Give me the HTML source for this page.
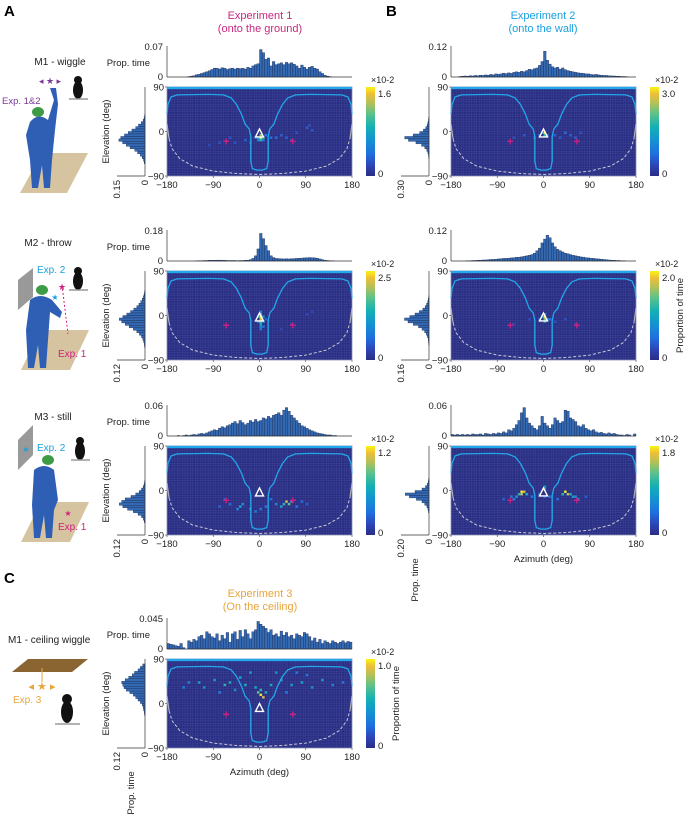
<!DOCTYPE html>
<html><head><meta charset="utf-8">
<style>
html,body{margin:0;padding:0;background:#fff;}
svg{display:block;font-family:"Liberation Sans",Arial,sans-serif;}
</style></head>
<body>
<svg id="fig" width="695" height="814" viewBox="0 0 695 814" xmlns="http://www.w3.org/2000/svg">
<defs>
<linearGradient id="parula" x1="0" y1="1" x2="0" y2="0">
<stop offset="0" stop-color="#2a2d84"/><stop offset="0.12" stop-color="#2c45b8"/><stop offset="0.25" stop-color="#1f6fe0"/><stop offset="0.4" stop-color="#1392d2"/><stop offset="0.55" stop-color="#14b0b5"/><stop offset="0.7" stop-color="#5cc28a"/><stop offset="0.82" stop-color="#b4c158"/><stop offset="0.92" stop-color="#eebd39"/><stop offset="1" stop-color="#f9f60f"/>
</linearGradient>
</defs>

<text x="4" y="16" font-size="15" font-weight="bold">A</text>
<text x="386" y="16" font-size="15" font-weight="bold">B</text>
<text x="4" y="583" font-size="15" font-weight="bold">C</text>
<text x="260" y="19" font-size="11" fill="#c8287f" text-anchor="middle">Experiment 1</text>
<text x="260" y="32" font-size="11" fill="#c8287f" text-anchor="middle">(onto the ground)</text>
<text x="543" y="19" font-size="11" fill="#1aa0e0" text-anchor="middle">Experiment 2</text>
<text x="543" y="32" font-size="11" fill="#1aa0e0" text-anchor="middle">(onto the wall)</text>
<text x="260" y="597" font-size="11" fill="#e8a53a" text-anchor="middle">Experiment 3</text>
<text x="260" y="610" font-size="11" fill="#e8a53a" text-anchor="middle">(On the ceiling)</text>

<g>
<text x="60" y="65" font-size="10" text-anchor="middle" fill="#222">M1 - wiggle</text>
<polygon points="20,193 42,153 88,153 67,193" fill="#d6c4a0"/>
<path d="M30,122 Q38,112 48,120 L54,100 L50,88 L56,88 L58,104 L55,130 L52,160 L50,188 L44,188 L42,165 L38,188 L32,188 L30,160 L26,135 Z" fill="#2f5fb5"/>
<ellipse cx="38" cy="112" rx="6" ry="5" fill="#3d9a45"/>
<text x="50" y="84" font-size="9" fill="#7a3a9a" text-anchor="middle">◂ ★ ▸</text>
<text x="2" y="104" font-size="9.5" fill="#7a3a9a">Exp. 1&amp;2</text>
<ellipse cx="78" cy="90" rx="5" ry="9" fill="#111"/><circle cx="78" cy="80" r="4" fill="#111"/>
<line x1="69" y1="99" x2="88" y2="99" stroke="#999" stroke-width="1.5"/>
</g>
<g>
<text x="48" y="246" font-size="10" text-anchor="middle" fill="#222">M2 - throw</text>
<polygon points="18,280 33,268 33,297 18,310" fill="#999"/>
<polygon points="21,370 41,330 89,330 70,370" fill="#d6c4a0"/>
<path d="M30,300 Q40,292 52,300 L62,312 L60,318 L50,312 L48,340 L46,368 L40,368 L38,345 L34,368 L28,368 L26,330 Z" fill="#2f5fb5"/>
<ellipse cx="42" cy="290" rx="6" ry="5" fill="#3d9a45"/>
<line x1="62" y1="285" x2="68" y2="334" stroke="#d0207f" stroke-dasharray="2,2"/>
<text x="62" y="290" font-size="9" fill="#d0207f" text-anchor="middle">★</text>
<text x="55" y="300" font-size="8" fill="#1aa0e0" text-anchor="middle">★</text>
<text x="37" y="273" font-size="10" fill="#1aa0e0">Exp. 2</text>
<text x="58" y="357" font-size="10" fill="#d0207f">Exp. 1</text>
<ellipse cx="78" cy="281" rx="5" ry="9" fill="#111"/><circle cx="78" cy="271" r="4" fill="#111"/>
<line x1="69" y1="290" x2="88" y2="290" stroke="#999" stroke-width="1.5"/>
</g>
<g>
<text x="53" y="420" font-size="10" text-anchor="middle" fill="#222">M3 - still</text>
<polygon points="18,440 33,425 33,455 18,470" fill="#999"/>
<polygon points="21,542 41,502 89,502 70,542" fill="#d6c4a0"/>
<path d="M34,470 Q44,462 54,470 L58,500 L54,510 L52,538 L46,538 L44,515 L40,538 L34,538 L32,505 Z" fill="#2f5fb5"/>
<ellipse cx="48" cy="460" rx="6" ry="5" fill="#3d9a45"/>
<text x="26" y="452" font-size="8" fill="#1aa0e0" text-anchor="middle">★</text>
<text x="37" y="451" font-size="10" fill="#1aa0e0">Exp. 2</text>
<text x="68" y="516" font-size="8" fill="#d0207f" text-anchor="middle">★</text>
<text x="58" y="530" font-size="10" fill="#d0207f">Exp. 1</text>
<ellipse cx="80" cy="451" rx="5" ry="9" fill="#111"/><circle cx="80" cy="441" r="4" fill="#111"/>
<line x1="71" y1="460" x2="90" y2="460" stroke="#999" stroke-width="1.5"/>
</g>
<g>
<text x="8" y="643" font-size="10" fill="#222">M1 - ceiling wiggle</text>
<polygon points="12,672 28,659 88,659 72,672" fill="#8a6532"/>
<line x1="42" y1="668" x2="42" y2="682" stroke="#e8a53a"/>
<text x="42" y="690" font-size="11" fill="#e8a53a" text-anchor="middle">◂ ★ ▸</text>
<text x="13" y="703" font-size="10" fill="#e8a53a">Exp. 3</text>
<ellipse cx="67" cy="712" rx="6" ry="11" fill="#111"/><circle cx="67" cy="699" r="5" fill="#111"/>
<line x1="55" y1="724" x2="80" y2="724" stroke="#999" stroke-width="1.5"/>
</g>
</svg>

<script>
const azEdges = [-180, 180];
const elEdges = [-90, 90];
const xTicks = [-180, -90, 0, 90, 180];
const yTicks = [90, 0, -90];

const a1Top = [0,0,0,0,0,0,0,0,0.001,0.002, 0.003,0.005,0.006,0.008,0.01,0.012,0.014,0.017, 0.02,0.02,0.018,0.021,0.02,0.017,0.019,0.02, 0.018,0.02,0.019,0.02,0.018,0.022,0.02,0.025, 0.028,0.03,0.062,0.055,0.04,0.043,0.025,0.035, 0.028,0.03,0.032,0.028,0.033,0.03,0.032,0.029, 0.025,0.02,0.027,0.022,0.018,0.022,0.024,0.02, 0.018,0.012,0.008,0.004,0.002,0.001,0,0, 0,0,0,0,0,0];
const a1Left = [0,0,0,0,0,0,0,0,0,0,0,0.002,0.005,0.01,0.02,0.035,0.05,0.07,0.09,0.11,0.13,0.14,0.12,0.1,0.08,0.055,0.04,0.025,0.015,0.008,0.004,0,0,0,0,0];
const a1Hot = [[0,-15,1],[0,-10,0.8],[5,-15,0.6],[-5,-15,0.5],[0,-20,0.6],[-5,-20,0.35],[5,-20,0.35],[10,-10,0.3],[-10,-15,0.3],[20,-15,0.25],[30,-15,0.25],[40,-10,0.2],[50,-15,0.2],[-30,-20,0.2],[-50,-25,0.15],[-80,-25,0.15],[-100,-30,0.12],[90,5,0.2],[100,0,0.18],[95,10,0.15],[70,-5,0.15],[60,-20,0.18],[-20,-25,0.18],[-60,-15,0.15]];

const a2Top = [0,0,0,0,0,0,0,0,0,0, 0,0.001,0.002,0.002,0.003,0.003,0.004,0.004, 0.004,0.005,0.005,0.004,0.004,0.003,0.003,0.003, 0.003,0.002,0.003,0.003,0.004,0.005,0.008,0.015, 0.03,0.07,0.16,0.13,0.09,0.06,0.03,0.02, 0.015,0.014,0.013,0.012,0.013,0.012,0.013,0.014, 0.015,0.016,0.017,0.018,0.019,0.02,0.019,0.018, 0.016,0.012,0.008,0.005,0.003,0.002,0.001,0, 0,0,0,0,0,0];
const a2Left = [0,0,0,0,0,0,0,0,0.002,0.004,0.007,0.012,0.018,0.026,0.035,0.048,0.062,0.078,0.095,0.11,0.1,0.085,0.068,0.05,0.035,0.024,0.015,0.01,0.006,0.003,0.002,0,0,0,0,0];
const a2Hot = [[0,-5,1],[0,-10,0.9],[0,0,0.6],[0,-15,0.7],[0,-20,0.55],[0,-25,0.4],[5,-5,0.45],[-5,-5,0.4],[5,-15,0.35],[-5,-15,0.3],[0,-30,0.3],[5,-25,0.25],[0,5,0.3],[10,-10,0.2],[90,0,0.12],[100,5,0.12],[60,-20,0.12],[40,-30,0.1]];

const a3Top = [0,0,0,0,0.001,0,0.001,0.002,0.001,0.002, 0.003,0.002,0.004,0.005,0.004,0.006,0.008,0.01, 0.012,0.011,0.015,0.018,0.016,0.02,0.022,0.025, 0.028,0.024,0.03,0.026,0.022,0.025,0.03,0.027, 0.032,0.028,0.03,0.035,0.033,0.038,0.035,0.04, 0.042,0.045,0.04,0.05,0.055,0.048,0.04,0.035, 0.03,0.025,0.02,0.018,0.015,0.012,0.01,0.008, 0.006,0.005,0.004,0.003,0.002,0.002,0.001,0.001, 0,0,0,0,0,0];
const a3Left = [0,0,0,0,0,0,0,0,0,0,0,0,0,0,0.002,0.004,0.008,0.015,0.025,0.04,0.06,0.085,0.1,0.11,0.095,0.075,0.05,0.03,0.015,0.007,0.003,0,0,0,0,0];
const a3Hot = [[50,-25,0.9],[55,-30,0.7],[45,-30,0.6],[60,-25,0.5],[40,-35,0.5],[30,-30,0.35],[-40,-35,0.5],[-35,-30,0.4],[-45,-40,0.35],[-20,-40,0.4],[-10,-45,0.3],[10,-35,0.3],[0,-40,0.3],[70,-35,0.3],[80,-25,0.25],[-60,-30,0.25],[-70,-20,0.2],[20,-20,0.25],[-80,-35,0.2],[90,-30,0.2]];

const b1Top = [0,0,0,0.002,0.003,0.004,0.003,0.005,0.004,0.006, 0.005,0.007,0.006,0.008,0.007,0.01,0.008,0.012, 0.01,0.012,0.015,0.013,0.016,0.014,0.018,0.02, 0.018,0.022,0.02,0.025,0.03,0.028,0.032,0.035, 0.045,0.06,0.1,0.065,0.05,0.04,0.035,0.038, 0.03,0.035,0.028,0.025,0.022,0.02,0.018,0.016, 0.015,0.014,0.012,0.012,0.01,0.009,0.01,0.008, 0.007,0.006,0.006,0.005,0.004,0.004,0.003,0.003, 0.002,0.002,0.001,0,0,0];
const b1Left = [0,0,0,0,0,0,0,0,0,0,0,0,0.003,0.006,0.012,0.02,0.035,0.06,0.1,0.17,0.26,0.22,0.14,0.08,0.045,0.025,0.012,0.006,0.003,0,0,0,0,0,0,0];
const b1Hot = [[0,-5,1],[0,-10,0.6],[-5,-5,0.4],[5,-10,0.35],[-10,-10,0.25],[20,-10,0.2],[40,-5,0.25],[50,-10,0.2],[-40,-10,0.18],[-60,-15,0.15],[60,-15,0.2],[70,-5,0.15],[-20,-15,0.18],[30,-15,0.18]];

const b2Top = [0,0,0,0,0,0,0.001,0.001,0.002,0.002, 0.003,0.003,0.004,0.004,0.005,0.006,0.006,0.007, 0.008,0.009,0.01,0.01,0.011,0.012,0.013,0.014, 0.015,0.016,0.018,0.02,0.022,0.025,0.03,0.04, 0.05,0.07,0.085,0.1,0.09,0.07,0.055,0.045, 0.04,0.035,0.03,0.028,0.025,0.022,0.02,0.018, 0.016,0.015,0.013,0.012,0.011,0.01,0.009,0.008, 0.007,0.006,0.005,0.004,0.003,0.003,0.002,0.002, 0.001,0.001,0,0,0,0];
const b2Left = [0,0,0,0,0,0,0,0,0,0,0.002,0.004,0.008,0.014,0.022,0.035,0.055,0.08,0.11,0.14,0.12,0.09,0.06,0.04,0.025,0.015,0.009,0.005,0.003,0.002,0,0,0,0,0,0];
const b2Hot = [[0,-5,1],[0,-10,0.75],[0,0,0.5],[-5,-5,0.4],[5,-10,0.4],[0,-15,0.45],[10,-10,0.25],[-10,-10,0.22],[20,-15,0.15],[40,-10,0.15],[-30,-10,0.12],[60,-20,0.12],[-60,-20,0.12]];

const b3Top = [0.003,0.002,0.003,0.002,0.003,0.002,0.003,0.002,0.004,0.003, 0.003,0.004,0.002,0.005,0.004,0.003,0.005,0.004, 0.006,0.005,0.008,0.006,0.012,0.01,0.015,0.022, 0.03,0.045,0.055,0.035,0.025,0.02,0.015,0.012, 0.02,0.038,0.025,0.02,0.015,0.022,0.035,0.03, 0.025,0.028,0.05,0.048,0.035,0.032,0.028,0.02, 0.018,0.022,0.015,0.012,0.01,0.012,0.008,0.006, 0.007,0.005,0.004,0.006,0.004,0.005,0.003,0.002, 0.002,0.001,0.003,0.002,0,0.004];
const b3Left = [0,0,0,0,0,0,0,0,0,0,0,0,0,0.003,0.006,0.012,0.025,0.05,0.1,0.17,0.14,0.09,0.05,0.03,0.015,0.008,0.004,0,0,0,0,0,0,0,0,0];
const b3Hot = [[-45,-5,1],[-40,-5,0.9],[-45,-10,0.85],[-50,-10,0.6],[-35,-10,0.55],[-55,-15,0.45],[-60,-20,0.35],[-65,-15,0.3],[40,-5,1],[45,-10,0.85],[35,-10,0.6],[50,-10,0.55],[55,-15,0.45],[60,-15,0.4],[65,-20,0.3],[0,5,0.5],[0,0,0.4],[-10,-10,0.3],[10,-15,0.3],[-25,-15,0.3],[25,-20,0.25],[80,-15,0.2],[-80,-20,0.2],[0,-15,0.2]];

const cTop = [0.008,0.007,0.006,0.005,0.004,0.008,0.002,0,0.012,0.01, 0.014,0.012,0.018,0.02,0.015,0.025,0.022,0.018, 0.016,0.022,0.012,0.02,0.015,0.024,0.01,0.022, 0.025,0.014,0.027,0.018,0.028,0.022,0.015,0.025, 0.028,0.04,0.036,0.033,0.03,0.024,0.028,0.02, 0.022,0.018,0.026,0.02,0.024,0.018,0.02,0.015, 0.022,0.02,0.018,0.024,0.022,0.018,0.012,0.016, 0.01,0.014,0.008,0.012,0.01,0.008,0.012,0.01, 0.008,0.01,0.012,0.009,0.011,0.01];
const cLeft = [0,0,0.01,0.02,0.03,0.045,0.055,0.07,0.085,0.1,0.095,0.09,0.08,0.065,0.05,0.04,0.03,0.02,0.012,0.008,0.006,0.003,0.002,0,0,0,0,0,0,0,0,0,0,0,0,0];
const cHot = [[0,15,1],[5,10,0.9],[-5,20,0.7],[0,25,0.6],[10,20,0.55],[-10,30,0.5],[-60,40,0.55],[-70,35,0.6],[-90,45,0.45],[-110,30,0.4],[-120,40,0.45],[-40,50,0.5],[-30,35,0.55],[40,45,0.5],[60,35,0.45],[80,40,0.5],[100,30,0.4],[120,45,0.45],[140,35,0.35],[-140,40,0.35],[30,60,0.4],[-20,60,0.45],[20,35,0.55],[-150,30,0.3],[160,40,0.3],[50,20,0.35],[-80,20,0.35],[90,55,0.3],[-50,25,0.4],[70,60,0.3]];

const topMaxes = {a1:0.07, a2:0.18, a3:0.06, b1:0.12, b2:0.12, b3:0.06, c:0.045};
const leftMaxes = {a1:0.15, a2:0.12, a3:0.12, b1:0.30, b2:0.16, b3:0.20, c:0.12};
const cbMaxLabels = {a1:'1.6', a2:'2.5', a3:'1.2', b1:'3.0', b2:'2.0', b3:'1.8', c:'1.0'};
const triangleAz = [0, 0];
const triangleEl = {a1:-5, a2:-5, a3:-5, b1:-5, b2:-5, b3:-5, c:-10};
const crossAz = [-65, 65];
const crossEl = {a1:-20, a2:-20, a3:-20, b1:-20, b2:-20, b3:-20, c:-22};

const NS = 'http://www.w3.org/2000/svg';
const svg = document.getElementById('fig');
function mk(tag, attrs, parent){
  const e = document.createElementNS(NS, tag);
  for (const k in attrs) e.setAttribute(k, attrs[k]);
  (parent||svg).appendChild(e);
  return e;
}
function txt(x,y,s,size,anchor,parent,extra){
  const t = mk('text', Object.assign({x:x,y:y,'font-size':size,'text-anchor':anchor||'start',fill:'#222'}, extra||{}), parent);
  t.textContent = s; return t;
}
const stops = [[0,[42,45,132]],[0.12,[44,69,184]],[0.25,[31,111,224]],[0.4,[19,146,210]],[0.55,[20,176,181]],[0.7,[92,194,138]],[0.82,[180,193,88]],[0.92,[238,189,57]],[1,[249,246,15]]];
function parula(v){
  v=Math.max(0,Math.min(1,v));
  for(let i=1;i<stops.length;i++){
    if(v<=stops[i][0]){
      const a=stops[i-1],b=stops[i],t=(v-a[0])/(b[0]-a[0]);
      const c=a[1].map((q,j)=>Math.round(q+(b[1][j]-q)*t));
      return 'rgb('+c.join(',')+')';
    }
  }
  return 'rgb(249,246,15)';
}
const solidContour = [[-180,35],[-178,55],[-172,70],[-160,74],[-100,75],[-70,74],[-55,68],[-45,55],[-35,35],[-28,15],[-20,5],[-17,-10],[-17,-60],[-14,-75],[-5,-78],[5,-78],[14,-75],[17,-60],[17,-10],[20,5],[28,15],[35,35],[45,55],[55,68],[70,74],[100,75],[160,74],[172,70],[178,55],[180,35]];
const dashedContour = [[-176,-15],[-170,-35],[-155,-55],[-130,-70],[-90,-80],[-45,-85],[0,-87],[45,-85],[90,-80],[130,-70],[155,-55],[170,-35],[176,-15]];

function panel(key, x0, y0, topArr, leftArr, hot, opts){
  const W=185, H=89, x1=x0+W, y1=y0+H;
  const g = mk('g', {});
  
  
  const xs = az => x0 + (az - azEdges[0])/(azEdges[1]-azEdges[0])*W;
  const ys = el => y0 + (elEdges[1]-el)/(elEdges[1]-elEdges[0])*H;
  const cw = W/72, ch = H/36;

  const hm = mk('g', {}, g);
  
  
  mk('rect', {x:x0,y:y0,width:W,height:H,fill:'#2a2e82'}, hm);
  hot.forEach(h=>{
    const r = mk('rect', {x:xs(h[0]), y:ys(h[1])-ch, width:cw, height:ch, fill:parula(h[2])}, hm);
    
    
  });
  let gp='';
  for(let i=1;i<72;i++){const x=x0+i*cw; gp+='M'+x.toFixed(2)+','+y0+'V'+y1;}
  for(let j=1;j<36;j++){const y=y0+j*ch; gp+='M'+x0+','+y.toFixed(2)+'H'+x1;}
  mk('path', {d:gp, stroke:'#5a68b8', 'stroke-width':0.35, 'stroke-opacity':0.5, fill:'none'}, hm);
  mk('rect', {x:x0,y:y0,width:W,height:H,fill:'none',stroke:'#8892b8','stroke-width':0.8}, hm);
  const sc = mk('path', {d:'M'+solidContour.map(p=>xs(p[0]).toFixed(1)+','+ys(p[1]).toFixed(1)).join('L'), stroke:'#22a8ea','stroke-width':1.3,fill:'none'}, g);
   
  mk('line', {x1:x0,y1:y0+1,x2:x1,y2:y0+1,stroke:'#22a8ea','stroke-width':2.2}, g);
  mk('path', {d:'M'+xs(-180)+','+ys(15)+'L'+xs(-176)+','+ys(-15)+'M'+xs(180)+','+ys(15)+'L'+xs(176)+','+ys(-15), stroke:'#b0b0b8','stroke-width':1.2,fill:'none'}, g);
  const dc = mk('path', {d:'M'+dashedContour.map(p=>xs(p[0]).toFixed(1)+','+ys(p[1]).toFixed(1)).join('L'), stroke:'#c8c8d4','stroke-width':1,'stroke-dasharray':'3,2',fill:'none'}, g);
   
  crossAz.forEach(a=>{
    const c = mk('text', {x:xs(a), y:ys(crossEl[key])+4, 'font-size':12, fill:'#d0207f','text-anchor':'middle','font-weight':'bold'}, g);
    c.textContent='+';
     
  });
  const tx=xs(triangleAz[0]), ty=ys(triangleEl[key]);
  const tri = mk('polygon', {points:(tx-4)+','+(ty+3)+' '+(tx+4)+','+(ty+3)+' '+tx+','+(ty-5), fill:'none', stroke:'#fff','stroke-width':1.4}, g);
   

  yTicks.forEach(v=>{
    txt(x0-3, ys(v)+3.5, v==0?'0':(v>0?'90':'−90'), 9.5, 'end', g);
    mk('line',{x1:x0-2,y1:ys(v),x2:x0,y2:ys(v),stroke:'#444','stroke-width':0.6},g);
  });
  xTicks.forEach(v=>{
    txt(xs(v), y1+12, v<0?'−'+(-v):String(v), 9.5, 'middle', g);
    mk('line',{x1:xs(v),y1:y1,x2:xs(v),y2:y1+2,stroke:'#444','stroke-width':0.6},g);
  });

  const hb=y0-10, ht=y0-41, tm=topMaxes[key];
  const th = mk('g', {}, g);
  
  
  topArr.forEach((v,i)=>{
    const h=v/tm*(hb-ht);
    if(h<=0) return;
    const r = mk('rect',{x:x0+i*cw,y:hb-h,width:cw,height:h,fill:'#3469b4',stroke:'#16254a','stroke-width':0.35},th);
    
    
  });
  mk('line',{x1:x0,y1:hb,x2:x1,y2:hb,stroke:'#333','stroke-width':0.7},th);
  mk('line',{x1:x0,y1:ht,x2:x0,y2:hb,stroke:'#333','stroke-width':0.7},th);
  txt(x0-4, ht+4, String(tm), 9.5, 'end', th);
  txt(x0-4, hb+3, '0', 9.5, 'end', th);
  if(opts.propTop) txt(x0-17, ht+20, 'Prop. time', 9.5, 'end', th);

  const lz=x0-22, lm=x0-50, lmax=leftMaxes[key];
  const lh = mk('g', {}, g);
  
  
  leftArr.forEach((v,i)=>{
    const w=v/lmax*(lz-lm);
    if(w<=0) return;
    const r = mk('rect',{x:lz-w,y:y0+i*ch,width:w,height:ch,fill:'#3469b4',stroke:'#16254a','stroke-width':0.35},lh);
    
    
  });
  mk('line',{x1:lm,y1:y1,x2:lz,y2:y1,stroke:'#333','stroke-width':0.7},lh);
  mk('line',{x1:lz,y1:y0,x2:lz,y2:y1,stroke:'#333','stroke-width':0.7},lh);
  txt(0,0,lmax.toFixed(2),9.5,'end',lh,{transform:'translate('+(lm+3)+','+(y1+4)+') rotate(-90)'});
  txt(0,0,'0',9.5,'end',lh,{transform:'translate('+(lz+3)+','+(y1+4)+') rotate(-90)'});
  if(opts.elev) txt(0,0,'Elevation (deg)',9.5,'middle',g,{transform:'translate('+(x0-58)+','+(y0+H/2)+') rotate(-90)'});
  if(opts.propBottom) txt(0,0,'Prop. time',9.5,'middle',g,{transform:'translate('+(lm+17)+','+(y1+45)+') rotate(-90)'});
  if(opts.az) txt((x0+x1)/2, y1+27, 'Azimuth (deg)', 9.5, 'middle', g);

  const cb = mk('g', {}, g);
  
  
  mk('rect',{x:x0+199,y:y0,width:9,height:H,fill:'url(#parula)'},cb);
  txt(x0+204, y0-4, '×10-2', 9, 'start', cb);
  txt(x0+211, y0+10, cbMaxLabels[key], 9.5, 'start', cb);
  txt(x0+211, y1+1, '0', 9.5, 'start', cb);
  if(opts.prop) txt(0,0,'Proportion of time',9.5,'middle',cb,{transform:'translate('+(x0+232)+','+(y0+H/2)+') rotate(-90)'});
}

panel('a1',167,87,a1Top,a1Left,a1Hot,{elev:true,propTop:true});
panel('a2',167,271,a2Top,a2Left,a2Hot,{elev:true,propTop:true});
panel('a3',167,446,a3Top,a3Left,a3Hot,{elev:true,propTop:true});
panel('b1',451,87,b1Top,b1Left,b1Hot,{});
panel('b2',451,271,b2Top,b2Left,b2Hot,{prop:true});
panel('b3',451,446,b3Top,b3Left,b3Hot,{az:true,propBottom:true});
panel('c',167,659,cTop,cLeft,cHot,{elev:true,propTop:true,az:true,propBottom:true,prop:true});
</script>
</body></html>
